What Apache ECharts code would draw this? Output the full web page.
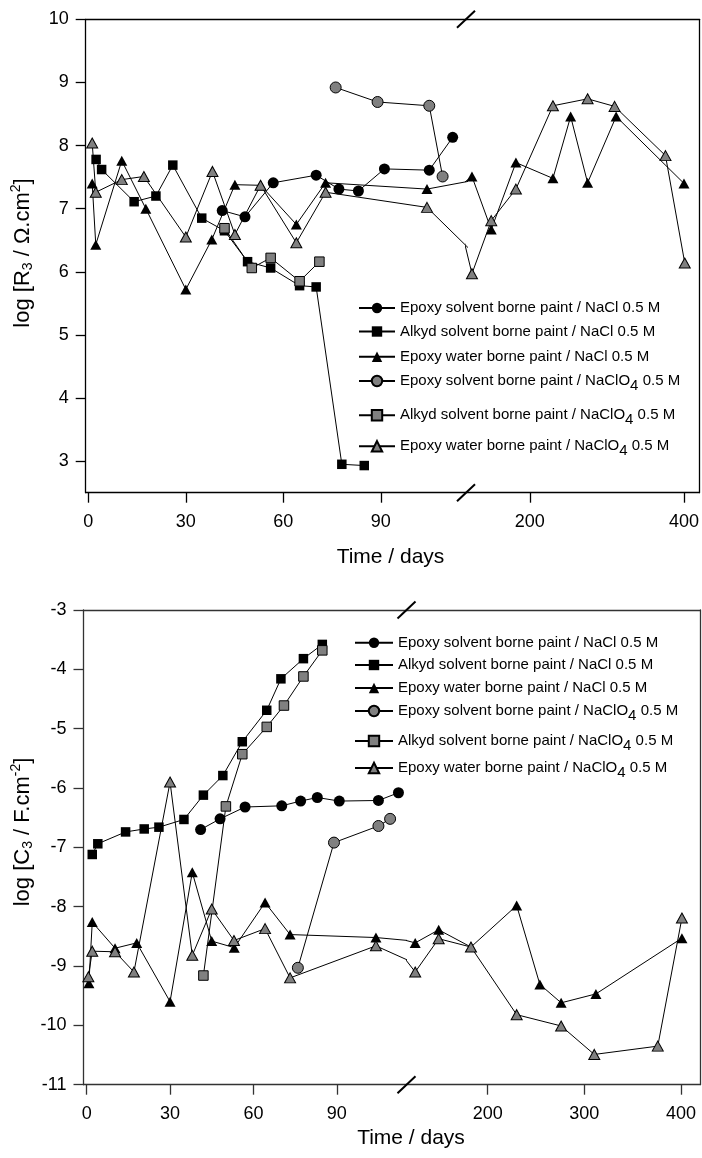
<!DOCTYPE html>
<html>
<head>
<meta charset="utf-8">
<script src="https://cdn.jsdelivr.net/npm/echarts@6/dist/echarts.min.js"></script>
<style>
  html, body { margin: 0; padding: 0; background: #fff; }
  #chart { width: 702px; height: 1158px; }
</style>
</head>
<body>
<div id="chart"></div>
<script>
// series names (legend order)
const seriesNames = [
  'Epoxy solvent borne paint / NaCl 0.5 M',
  'Alkyd solvent borne paint / NaCl 0.5 M',
  'Epoxy water borne paint / NaCl 0.5 M',
  'Epoxy solvent borne paint / NaClO4 0.5 M',
  'Alkyd solvent borne paint / NaClO4 0.5 M',
  'Epoxy water borne paint / NaClO4 0.5 M'
]

// top panel: log R3, [days, value]
const r3EpoxySolventNaCl = [[41.2, 6.97], [48.2, 6.87], [56.9, 7.41], [70.1, 7.53], [77.1, 7.31], [83.1, 7.28], [91.1, 7.63], [104.9, 7.61], [112.1, 8.13]]
const r3AlkydSolventNaCl = [[2.4, 7.78], [4.1, 7.62], [14.1, 7.11], [20.8, 7.20], [26, 7.69], [34.9, 6.85], [41.9, 6.65], [49, 6.16], [56.1, 6.06], [65, 5.78], [70.1, 5.76], [78, 2.95], [84.9, 2.93]]
const r3EpoxyWaterNaCl = [[1.2, 7.40], [2.3, 6.43], [10.3, 7.76], [17.7, 7.0], [30, 5.72], [38, 6.51], [45.1, 7.38], [53, 7.37], [64, 6.75], [73, 7.41], [104.2, 7.31], [125, 7.51], [150, 6.67], [182, 7.73], [230, 7.48], [253, 8.46], [275, 7.41], [312, 8.46], [400, 7.40]]
const r3EpoxySolventNaClO4 = [[76.1, 8.92], [89, 8.69], [104.9, 8.63], [109, 7.51]]
const r3AlkydSolventNaClO4 = [[41.9, 6.69], [50.3, 6.06], [56.1, 6.22], [65, 5.85], [71.1, 6.16]]
const r3EpoxyWaterNaClO4 = [[1.2, 8.04], [2.3, 7.26], [10.3, 7.46], [17.1, 7.51], [30, 6.55], [38.2, 7.59], [45.1, 6.59], [53, 7.37], [64, 6.46], [73, 7.26], [104.2, 7.02], [125, 5.97], [150, 6.81], [182, 7.31], [230, 8.63], [275, 8.74], [310, 8.62], [376, 7.84], [401, 6.14]]

// bottom panel: log C3, [days, value]
const c3EpoxySolventNaCl = [[41, -6.70], [48, -6.52], [57, -6.32], [70.2, -6.30], [77, -6.22], [83, -6.16], [90.9, -6.22], [105, -6.21], [112.2, -6.08]]
const c3AlkydSolventNaCl = [[2, -7.12], [4, -6.94], [14, -6.74], [20.7, -6.69], [26, -6.66], [35, -6.53], [42, -6.12], [49, -5.79], [56, -5.22], [64.8, -4.69], [69.9, -4.16], [78, -3.82], [84.8, -3.58]]
const c3EpoxyWaterNaCl = [[0.8, -9.29], [2, -8.26], [10.2, -8.70], [18, -8.61], [30, -9.60], [38, -7.42], [45, -8.58], [53.1, -8.69], [64.2, -7.93], [73.2, -8.47], [104.1, -8.52], [125, -8.61], [149.3, -8.39], [182.7, -8.68], [230, -7.98], [254, -9.31], [276, -9.62], [312, -9.47], [401, -8.53]]
const c3EpoxySolventNaClO4 = [[76, -9.03], [89, -6.92], [105, -6.64], [109.2, -6.52]]
const c3AlkydSolventNaClO4 = [[42, -9.16], [50.1, -6.31], [56, -5.43], [64.8, -4.97], [71, -4.61], [78, -4.12], [84.8, -3.68]]
const c3EpoxyWaterNaClO4 = [[0.6, -9.18], [2, -8.75], [10.2, -8.76], [17, -9.10], [30, -5.90], [38, -8.82], [45, -8.04], [53, -8.57], [64.2, -8.37], [73.2, -9.20], [104.1, -8.66], [125, -9.10], [149.3, -8.54], [182.7, -8.68], [230, -9.82], [276, -10.01], [310.3, -10.49], [376, -10.35], [401, -8.19]]

// tick labels
const topXTicksLeft = [0, 30, 60, 90]
const topXTicksRight = [200, 400]
const bottomXTicksLeft = [0, 30, 60, 90]
const bottomXTicksRight = [200, 300, 400]
const topYTicks = [3, 4, 5, 6, 7, 8, 9, 10]
const bottomYTicks = [-11, -10, -9, -8, -7, -6, -5, -4, -3]

const FONT = "'Liberation Sans', Arial, Helvetica, sans-serif"
const GRAY = '#808080'

// marker look for each series
const looks = [
  {symbol: 'circle', fill: '#000'},
  {symbol: 'rect', fill: '#000'},
  {symbol: 'triangle', fill: '#000'},
  {symbol: 'circle', fill: GRAY},
  {symbol: 'rect', fill: GRAY},
  {symbol: 'triangle', fill: GRAY}
]
const symbolSizes = {circle: 11, rect: 9.5, triangle: [11, 10]}

// each panel has a broken time axis: two grids side by side
const panels = [
  {
    top: 19.3, height: 473.4, left: 85.7, breakX: 466, right: 700,
    yMin: 2.5, yMax: 10, yTicks: topYTicks,
    xLeft: [-0.8, 116.2], xRight: [117.26, 419.8],
    ticksLeft: topXTicksLeft, ticksRight: topXTicksRight,
    axisColor: '#000',
    data: [r3EpoxySolventNaCl, r3AlkydSolventNaCl, r3EpoxyWaterNaCl, r3EpoxySolventNaClO4, r3AlkydSolventNaClO4, r3EpoxyWaterNaClO4],
    legendLeft: 358, legendItemWidth: 36,
    legendRows: [308, 331.5, 356.7, 380, 414.3, 445.3],
    yName: 'log [R{sub|3} / \u03a9.cm{sup|2}]', yNameX: 23, yNameY: 253,
    xNameX: 390.5, xNameY: 557.7
  },
  {
    top: 610, height: 474.7, left: 83.5, breakX: 406.5, right: 700,
    yMin: -11, yMax: -3, yTicks: bottomYTicks,
    xLeft: [-1.15, 115.1], xRight: [116.0, 419.7],
    ticksLeft: bottomXTicksLeft, ticksRight: bottomXTicksRight,
    axisColor: '#333',
    data: [c3EpoxySolventNaCl, c3AlkydSolventNaCl, c3EpoxyWaterNaCl, c3EpoxySolventNaClO4, c3AlkydSolventNaClO4, c3EpoxyWaterNaClO4],
    legendLeft: 354, legendItemWidth: 38,
    legendRows: [642.7, 665, 688, 710, 740, 767],
    yName: 'log [C{sub|3} / F.cm{sup|-2}]', yNameX: 23, yNameY: 832,
    xNameX: 411, xNameY: 1138.7
  }
]

const chart = echarts.init(document.getElementById('chart'))

const grid = []
const xAxis = []
const yAxis = []
const series = []
const legend = []
const graphic = []

const labelStyle = {fontSize: 18, fontFamily: FONT, color: '#000'}
const nameRich = {
  sub: {fontSize: 14, fontFamily: FONT, fill: '#000', padding: [10, 0, 0, 0]},
  sup: {fontSize: 14, fontFamily: FONT, fill: '#000', padding: [0, 0, 14, 0]}
}

panels.forEach((p, pi) => {
  const lineStyle = {color: p.axisColor, width: 1.3}
  const gL = pi * 2
  const gR = pi * 2 + 1
  grid.push({left: p.left, top: p.top, width: p.breakX - p.left, height: p.height})
  grid.push({left: p.breakX, top: p.top, width: p.right - p.breakX, height: p.height})

  // bottom axes with ticks
  xAxis.push({
    type: 'value', gridIndex: gL, position: 'bottom', min: p.xLeft[0], max: p.xLeft[1],
    axisLine: {show: true, onZero: false, lineStyle},
    axisTick: {show: true, length: 10, customValues: p.ticksLeft, lineStyle},
    axisLabel: Object.assign({customValues: p.ticksLeft, margin: 20}, labelStyle),
    splitLine: {show: false}
  })
  xAxis.push({
    type: 'value', gridIndex: gR, position: 'bottom', min: p.xRight[0], max: p.xRight[1],
    axisLine: {show: true, onZero: false, lineStyle},
    axisTick: {show: true, length: 10, customValues: p.ticksRight, lineStyle},
    axisLabel: Object.assign({customValues: p.ticksRight, margin: 20}, labelStyle),
    splitLine: {show: false}
  })
  // top frame lines
  ;[gL, gR].forEach((g, k) => {
    const range = k === 0 ? p.xLeft : p.xRight
    xAxis.push({
      type: 'value', gridIndex: g, position: 'top', min: range[0], max: range[1],
      axisLine: {show: true, onZero: false, lineStyle},
      axisTick: {show: false}, axisLabel: {show: false}, splitLine: {show: false}
    })
  })

  yAxis.push({
    type: 'value', gridIndex: gL, position: 'left', min: p.yMin, max: p.yMax,
    axisLine: {show: true, onZero: false, lineStyle},
    axisTick: {show: true, length: 10, customValues: p.yTicks, lineStyle},
    axisLabel: Object.assign({customValues: p.yTicks, margin: 17}, labelStyle),
    splitLine: {show: false}
  })
  yAxis.push({
    type: 'value', gridIndex: gR, position: 'right', min: p.yMin, max: p.yMax,
    axisLine: {show: true, onZero: false, lineStyle},
    axisTick: {show: false}, axisLabel: {show: false}, splitLine: {show: false}
  })

  // every series goes in both halves; clipping cuts it at the break
  ;[0, 1].forEach((side) => {
    p.data.forEach((pts, i) => {
      const look = looks[i]
      series.push({
        type: 'line',
        name: seriesNames[i],
        xAxisIndex: pi * 4 + side,
        yAxisIndex: pi * 2 + side,
        data: pts,
        clip: true,
        symbol: look.symbol,
        symbolSize: symbolSizes[look.symbol],
        showAllSymbol: true,
        itemStyle: {
          color: look.fill,
          borderColor: '#000',
          borderWidth: look.fill === '#000' ? 0 : 1
        },
        lineStyle: {color: '#000', width: 1},
        emphasis: {disabled: true},
        z: 2 + i
      })
    })
  })

  // legend: one block per row, spacing is uneven in the picture
  p.legendRows.forEach((cy, i) => {
    const hasSub = seriesNames[i].indexOf('NaClO4') >= 0
    legend.push({
      data: [seriesNames[i]],
      left: p.legendLeft,
      top: cy - (hasSub ? 6.5 : 7.5),
      padding: 0,
      itemWidth: p.legendItemWidth,
      itemHeight: 13,
      selectedMode: false,
      formatter: (name) => name.replace('NaClO4', 'NaClO{sub|4}'),
      textStyle: {
        fontSize: 15, fontFamily: FONT, color: '#000',
        rich: {sub: {fontSize: 15, fontFamily: FONT, color: '#000', padding: [10, 0, 0, 0]}}
      }
    })
  })

  // axis titles
  graphic.push({
    type: 'text', x: p.yNameX, y: p.yNameY, rotation: Math.PI / 2,
    style: {
      text: p.yName, fontSize: 22, fontFamily: FONT, fill: '#000',
      align: 'center', verticalAlign: 'middle', rich: nameRich
    }
  })
  graphic.push({
    type: 'text', x: p.xNameX, y: p.xNameY,
    style: {
      text: 'Time / days', fontSize: 21, fontFamily: FONT, fill: '#000',
      align: 'center', verticalAlign: 'middle'
    }
  })

  // break marks on top and bottom frame lines
  ;[p.top, p.top + p.height].forEach((yy) => {
    graphic.push({
      type: 'line', z: 100,
      shape: {x1: p.breakX - 9, y1: yy + 8.5, x2: p.breakX + 9, y2: yy - 8.5},
      style: {stroke: '#000', lineWidth: 2}
    })
  })
})

chart.setOption({
  backgroundColor: '#fff',
  animation: false,
  grid, xAxis, yAxis, series, legend, graphic
})
</script>
</body>
</html>
